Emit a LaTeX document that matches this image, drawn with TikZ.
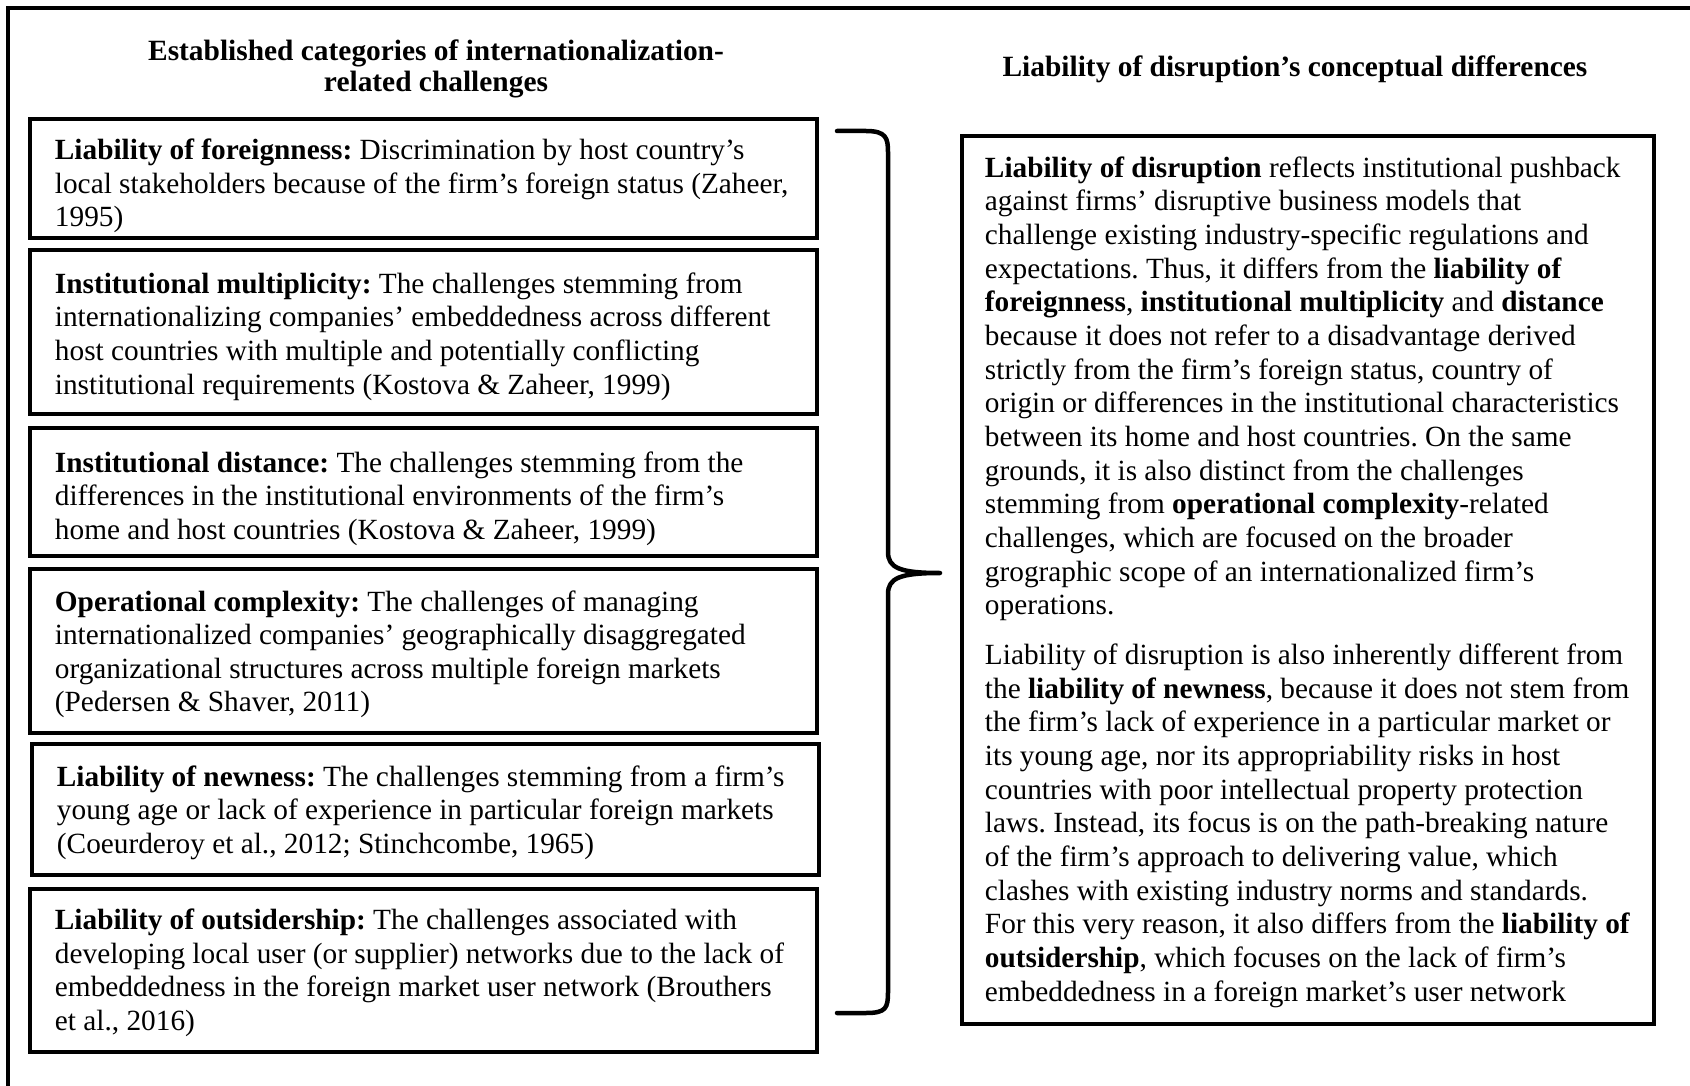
\documentclass[tikz,border=0pt]{standalone}
\usepackage{fontspec}
\setmainfont{Liberation Serif}
\begin{document}
\frenchspacing
\begin{tikzpicture}[x=1pt,y=-1pt,
  every node/.style={font=\fontsize{29.3}{33.66}\selectfont},
  leftbox/.style={draw,line width=4.5pt,minimum width=787pt,inner sep=0pt},
  rightbox/.style={draw,line width=4.5pt,minimum width=692pt,minimum height=888pt,inner sep=0pt},
  boxtext/.style={anchor=west,align=left,inner sep=0pt},
  header/.style={align=center,font=\fontsize{29.4}{31}\selectfont\bfseries\frenchspacing},
  frameline/.style={line width=4.5pt},
  bracestyle/.style={line width=4.5pt,line cap=round,line join=round}]
\useasboundingbox (0,0) rectangle (1690,1086);
\fill[white] (0,0) rectangle (1690,1086);
% frame
\coordinate (fbl) at (8,1090);
\coordinate (ftl) at (8,8);
\coordinate (ftr) at (1694,8);
\draw[frameline] (fbl) -- (ftl) -- (ftr);
% headers
\node[header] (hl) at (436,69) {Established categories of internationalization-\\related challenges};
\node[header] (hr) at (1295,69) {Liability of disruption’s conceptual differences};
% left boxes
\node[leftbox,minimum height=119pt] (b1) at (423.5,178.5) {};
\node[leftbox,minimum height=164pt] (b2) at (423.5,332) {};
\node[leftbox,minimum height=128pt] (b3) at (423.5,492) {};
\node[leftbox,minimum height=164pt] (b4) at (423.5,651) {};
\node[leftbox,minimum height=131pt] (b5) at (425.5,809.5) {};
\node[leftbox,minimum height=163pt] (b6) at (423.5,970.5) {};
\node[boxtext] (t1) at ([xshift=27pt,yshift=-7.5pt]b1.west) {\textbf{Liability of foreignness:} Discrimination by host country's\\local stakeholders because of the firm's foreign status (Zaheer,\\1995)};
\node[boxtext] (t2) at ([xshift=27pt,yshift=-4.5pt]b2.west) {\textbf{Institutional multiplicity:} The challenges stemming from\\internationalizing companies' embeddedness across different\\host countries with multiple and potentially conflicting\\institutional requirements (Kostova \& Zaheer, 1999)};
\node[boxtext] (t3) at ([xshift=27pt,yshift=-6.5pt]b3.west) {\textbf{Institutional distance:} The challenges stemming from the\\differences in the institutional environments of the firm's\\home and host countries (Kostova \& Zaheer, 1999)};
\node[boxtext] (t4) at ([xshift=27pt,yshift=-3.3pt]b4.west) {\textbf{Operational complexity:} The challenges of managing\\internationalized companies' geographically disaggregated\\organizational structures across multiple foreign markets\\(Pedersen \& Shaver, 2011)};
\node[boxtext] (t5) at ([xshift=27pt,yshift=-3.3pt]b5.west) {\textbf{Liability of newness:} The challenges stemming from a firm's\\young age or lack of experience in particular foreign markets\\(Coeurderoy et al., 2012; Stinchcombe, 1965)};
\node[boxtext] (t6) at ([xshift=27pt,yshift=-2.2pt]b6.west) {\textbf{Liability of outsidership:} The challenges associated with\\developing local user (or supplier) networks due to the lack of\\embeddedness in the foreign market user network (Brouthers\\et al., 2016)};
% right box
\node[rightbox] (rb) at (1308,580) {};
\node[boxtext] (rt) at ([xshift=25pt,yshift=-2pt]rb.west) {\textbf{Liability of disruption} reflects institutional pushback\\
against firms' disruptive business models that\\
challenge existing industry-specific regulations and\\
expectations. Thus, it differs from the \textbf{liability of}\\
\textbf{foreignness}, \textbf{institutional multiplicity} and \textbf{distance}\\
because it does not refer to a disadvantage derived\\
strictly from the firm's foreign status, country of\\
origin or differences in the institutional characteristics\\
between its home and host countries. On the same\\
grounds, it is also distinct from the challenges\\
stemming from \textbf{operational complexity}-related\\
challenges, which are focused on the broader\\
grographic scope of an internationalized firm's\\
operations.\\[16pt]
Liability of disruption is also inherently different from\\
the \textbf{liability of newness}, because it does not stem from\\
the firm's lack of experience in a particular market or\\
its young age, nor its appropriability risks in host\\
countries with poor intellectual property protection\\
laws. Instead, its focus is on the path-breaking nature\\
of the firm's approach to delivering value, which\\
clashes with existing industry norms and standards.\\
For this very reason, it also differs from the \textbf{liability of}\\
\textbf{outsidership}, which focuses on the lack of firm's\\
embeddedness in a foreign market's user network};
% brace
\coordinate (brtop) at (837,131);
\coordinate (brbot) at (837,1013);
\coordinate (brtip) at (940,573);
\draw[bracestyle] (brtop) -- (866,131) .. controls (886,131) and (888,138) .. (888,152)
  -- (888,552) .. controls (888,568) and (900,573) .. (brtip)
  .. controls (900,573) and (888,578) .. (888,594)
  -- (888,992) .. controls (888,1008) and (886,1013) .. (866,1013) -- (brbot);
\end{tikzpicture}
\end{document}
